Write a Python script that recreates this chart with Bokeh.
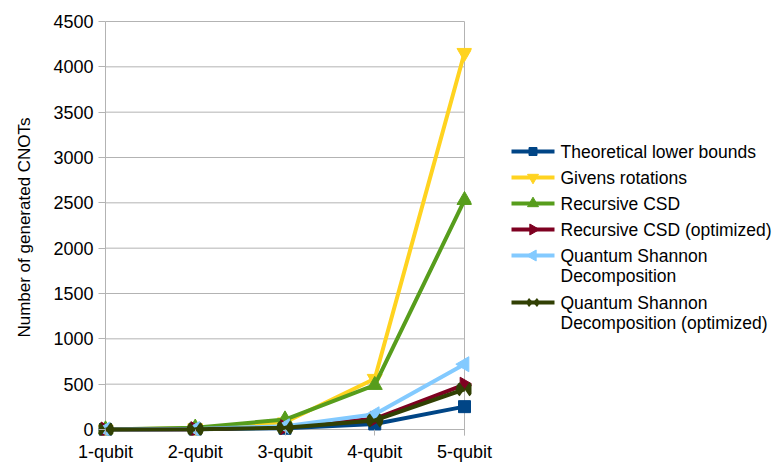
import math
from bokeh.plotting import figure
from bokeh.models import Range1d, FixedTicker
from bokeh.layouts import row
from bokeh.core.properties import value
from bokeh.embed import file_html
from bokeh.resources import INLINE

# ---------------- data ----------------
categories = ["1-qubit", "2-qubit", "3-qubit", "4-qubit", "5-qubit"]
y_ticks = [0, 500, 1000, 1500, 2000, 2500, 3000, 3500, 4000, 4500]
y_label = "Number of generated CNOTs"
series_names = [
    "Theoretical lower bounds",
    "Givens rotations",
    "Recursive CSD",
    "Recursive CSD (optimized)",
    "Quantum Shannon\nDecomposition",
    "Quantum Shannon\nDecomposition (optimized)",
]
lower_bounds = [0, 3, 14, 61, 252]
givens = [0, 14, 80, 560, 4155]
rec_csd = [0, 20, 110, 490, 2530]
rec_csd_opt = [0, 4, 26, 118, 494]
qsd = [0, 6, 36, 168, 720]
qsd_opt = [0, 3, 20, 100, 444]
series_values = [lower_bounds, givens, rec_csd, rec_csd_opt, qsd, qsd_opt]

# ---------------- style ----------------
colors = ["#004586", "#ffd320", "#579d1c", "#7e0021", "#83caff", "#314004"]
markers = [("square", 0.0), ("inverted_triangle", 0.0), ("triangle", 0.0),
           ("triangle", -math.pi / 2), ("triangle", math.pi / 2), ("bowtie", 0.0)]
main_sizes = [12, 15, 15, 15, 15, 8.5]
leg_sizes = [8, 11, 11, 11, 11, 6]
main_half = 0.96
leg_half = 0.85
FONT = "Liberation Sans"
GRID = "#b3b3b3"

TOP, BOTTOM, LEFT = 19, 27, 98
FH = 416
xs = list(range(1, len(categories) + 1))
px_x = 89.75            # pixels per category step
px_y = 408.0 / 4500.0   # pixels per unit
x_start = 1 - 7 / px_x
x_end = len(categories) + 7 / px_x
y_start = -6 / px_y
y_end = y_ticks[-1] + 2 / px_y

p = figure(frame_width=373, frame_height=FH,
           min_border_left=LEFT, min_border_right=30,
           min_border_top=TOP, min_border_bottom=BOTTOM,
           x_range=Range1d(x_start, x_end), y_range=Range1d(y_start, y_end),
           toolbar_location=None, output_backend="svg")
p.outline_line_color = None
p.grid.visible = False

# grid lines and frame lines
n = len(y_ticks)
p.segment(x0=[xs[0]] * n, y0=y_ticks, x1=[xs[-1]] * n, y1=y_ticks,
          line_color=GRID, line_width=1)
p.segment(x0=[xs[0], xs[-1]], y0=[y_start, y_start], x1=[xs[0], xs[-1]],
          y1=[y_ticks[-1], y_ticks[-1]], line_color=GRID, line_width=1)


def bowtie(fig, x, y, r, half, col):
    fig.wedge(x=x, y=y, radius=r, radius_units="screen",
              start_angle=-half, end_angle=half, fill_color=col, line_color=None)
    fig.wedge(x=x, y=y, radius=r, radius_units="screen",
              start_angle=math.pi - half, end_angle=math.pi + half,
              fill_color=col, line_color=None)


for vals, col, (mk, ang), sz in zip(series_values, colors, markers, main_sizes):
    p.line(xs, vals, line_color=col, line_width=4)
    if mk == "bowtie":
        bowtie(p, xs, vals, sz, main_half, col)
    else:
        p.scatter(xs, vals, marker=mk, angle=ang, size=sz,
                  fill_color=col, line_color=col)

# axes
xa = p.xaxis[0]
xa.ticker = FixedTicker(ticks=xs)
xa.major_label_overrides = {x: c for x, c in zip(xs, categories)}
xa.axis_line_color = None
xa.major_tick_in = 6
xa.major_tick_out = 0
xa.major_tick_line_color = GRID
xa.minor_tick_line_color = None
xa.major_label_standoff = 6
xa.major_label_text_font = FONT
xa.major_label_text_font_size = "18px"
xa.major_label_text_color = "black"

ya = p.yaxis[0]
ya.ticker = FixedTicker(ticks=y_ticks)
ya.axis_line_color = None
ya.major_tick_in = 7
ya.major_tick_out = 0
ya.major_tick_line_color = GRID
ya.minor_tick_line_color = None
ya.major_label_standoff = 5
ya.major_label_text_font = FONT
ya.major_label_text_font_size = "18px"
ya.major_label_text_color = "black"
ya.axis_label = y_label
ya.axis_label_standoff = 16
ya.axis_label_text_font = FONT
ya.axis_label_text_font_size = "17px"
ya.axis_label_text_font_style = "normal"
ya.axis_label_text_color = "black"

# ---------------- legend panel ----------------
LW = 277
H = 462
q = figure(frame_width=LW, frame_height=FH, min_border_left=0, min_border_right=0,
           min_border_top=TOP, min_border_bottom=BOTTOM,
           x_range=Range1d(0, LW), y_range=Range1d(BOTTOM, H - TOP),
           x_axis_location=None, y_axis_location=None,
           toolbar_location=None, output_backend="svg")
q.outline_line_color = None
q.grid.visible = False

row_y = [151, 177, 203, 229, 255, 302]
line_x0, line_x1, text_x = 10, 53, 59
mid = (line_x0 + line_x1) / 2
tx, ty, tt = [], [], []
for name, col, (mk, ang), sz, sy in zip(series_names, colors, markers, leg_sizes, row_y):
    yy = H - sy
    q.line([line_x0, line_x1], [yy, yy], line_color=col, line_width=4)
    if mk == "bowtie":
        bowtie(q, [mid], [yy], sz, leg_half, col)
    else:
        q.scatter([mid], [yy], marker=mk, angle=ang, size=sz,
                  fill_color=col, line_color=col)
    for k, part in enumerate(name.split("\n")):
        tx.append(text_x)
        ty.append(yy - 20.5 * k)
        tt.append(part)
q.text(x=tx, y=ty, text=tt, text_font=value(FONT), text_font_size="17.5px",
       text_baseline="middle", text_align="left", text_color="black")

layout = row(p, q)
open("out.html", "w").write(file_html(layout, INLINE))
